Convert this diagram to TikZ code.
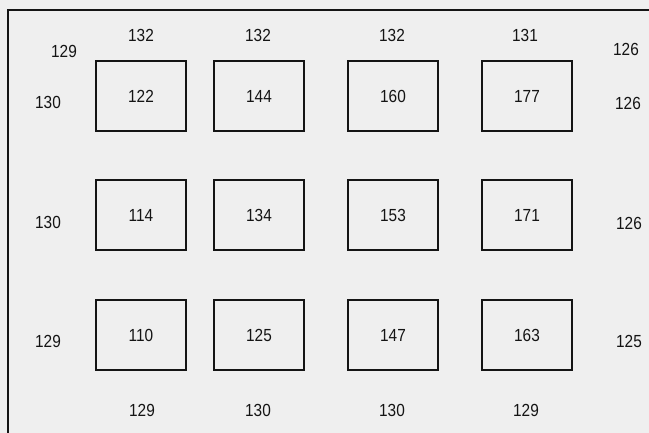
\documentclass[tikz,border=0pt]{standalone}
\usepackage{fontspec}
\setmainfont{Liberation Sans}[FakeStretch=0.88]
\definecolor{paper}{RGB}{239,239,239}
\definecolor{ink}{RGB}{20,20,20}
\begin{document}
\begin{tikzpicture}[x=1pt, y=-1pt, every node/.style={font=\fontsize{17.5}{20}\selectfont, text=ink, inner sep=0pt},
    cell/.style={draw=ink, line width=2pt, minimum width=90pt, minimum height=70pt}]

    % --- 1. 背景と枠 ---
    \fill[paper] (0, 0) rectangle (649, 433);
    \useasboundingbox (0, 0) rectangle (649, 433);
    \draw[ink, line width=2pt] (8, 433) -- (8, 10) -- (649, 10);

    % --- 2. 内側のセル (3 x 4) ---
    \node[cell] (c11) at (141, 96) {122};
    \node[cell] (c12) at (259, 96) {144};
    \node[cell] (c13) at (393, 96) {160};
    \node[cell] (c14) at (527, 96) {177};

    \node[cell] (c21) at (141, 215) {114};
    \node[cell] (c22) at (259, 215) {134};
    \node[cell] (c23) at (393, 215) {153};
    \node[cell] (c24) at (527, 215) {171};

    \node[cell] (c31) at (141, 335) {110};
    \node[cell] (c32) at (259, 335) {125};
    \node[cell] (c33) at (393, 335) {147};
    \node[cell] (c34) at (527, 335) {163};

    % --- 3. 上辺の値 ---
    \node (t1) at (141, 35) {132};
    \node (t2) at (258, 35) {132};
    \node (t3) at (392, 35) {132};
    \node (t4) at (525, 35) {131};
    \node (tl) at (64, 51) {129};
    \node (tr) at (626, 49) {126};

    % --- 4. 左右の値 ---
    \node (l1) at (48, 102) {130};
    \node (l2) at (48, 222) {130};
    \node (l3) at (48, 341) {129};
    \node (r1) at (628, 103) {126};
    \node (r2) at (629, 223) {126};
    \node (r3) at (629, 341) {125};

    % --- 5. 下辺の値 ---
    \node (b1) at (142, 410) {129};
    \node (b2) at (258, 410) {130};
    \node (b3) at (392, 410) {130};
    \node (b4) at (526, 410) {129};

\end{tikzpicture}
\end{document}
